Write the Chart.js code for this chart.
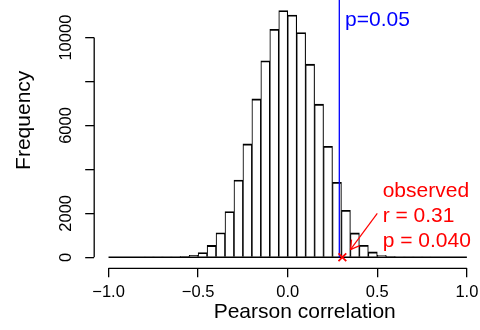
<!DOCTYPE html>
<html>
<head>
<meta charset="utf-8">
<script src="https://cdn.jsdelivr.net/npm/chart.js@4.4.1/dist/chart.umd.min.js"></script>
<style>
  html, body { margin: 0; padding: 0; background: #fff; }
  #wrap { width: 480px; height: 330px; }
</style>
</head>
<body>
<div id="wrap"><canvas id="histChart"></canvas></div>
<script>
// lower edge of each 0.05 wide bin of the permutation histogram
const binLow = [-1.00, -0.95, -0.90, -0.85, -0.80, -0.75, -0.70, -0.65, -0.60, -0.55,
                -0.50, -0.45, -0.40, -0.35, -0.30, -0.25, -0.20, -0.15, -0.10, -0.05,
                 0.00,  0.05,  0.10,  0.15,  0.20,  0.25,  0.30,  0.35,  0.40,  0.45,
                 0.50,  0.55,  0.60,  0.65,  0.70,  0.75,  0.80,  0.85,  0.90,  0.95];
const counts = [0, 0, 0, 0, 1, 4, 10, 20, 40, 90,
                215, 540, 1120, 2080, 3520, 5160, 7210, 8940, 10380, 11230,
                11030, 10230, 8790, 6970, 5050, 3410, 2140, 1110, 550, 245,
                95, 45, 20, 9, 4, 1, 0, 0, 0, 0];
const binWidth = 0.05;
const xTicks = [-1, -0.5, 0, 0.5, 1];
const yTicks = [0, 2000, 4000, 6000, 8000, 10000];
const yTickLabels = ['0', '2000', '', '6000', '', '10000'];
const critR = 0.288;      // p = 0.05 cut-off
const observedR = 0.305;
const observedText = ['observed', 'r = 0.31', 'p = 0.040'];

const FONT = "'Liberation Sans', Arial, Helvetica, sans-serif";
Chart.defaults.font.family = FONT;
Chart.defaults.color = '#000';

const fmtX = v => (v < 0 ? '\u2212' : '') + Math.abs(v).toFixed(1);

function seg(ctx, x1, y1, x2, y2) {
    ctx.beginPath();
    ctx.moveTo(x1, y1);
    ctx.lineTo(x2, y2);
    ctx.stroke();
}

// no extra room for edge labels, the plot region is fixed like in R
function noPad(s) {
    s.paddingLeft = 0;
    s.paddingRight = 0;
    s.paddingTop = 0;
    s.paddingBottom = 0;
}

// R style bits: short axis lines, rotated y labels, axis titles, cut-off line and notes
const rStyle = {
    id: 'rStyle',
    afterDatasetDraw(chart, args) {
        if (args.index !== 1) return;
        const {ctx, chartArea, scales: {x, y}} = chart;
        ctx.save();
        ctx.strokeStyle = '#000';
        ctx.lineWidth = 1.5;
        const y0 = y.getPixelForValue(0);
        seg(ctx, x.getPixelForValue(binLow[0]), y0,
            x.getPixelForValue(binLow[binLow.length - 1] + binWidth), y0);

        ctx.lineWidth = 1.3;
        seg(ctx, x.getPixelForValue(xTicks[0]), chartArea.bottom,
            x.getPixelForValue(xTicks[xTicks.length - 1]), chartArea.bottom);
        seg(ctx, chartArea.left, y.getPixelForValue(yTicks[0]),
            chartArea.left, y.getPixelForValue(yTicks[yTicks.length - 1]));

        ctx.fillStyle = '#000';
        ctx.font = '16.5px ' + FONT;
        ctx.textAlign = 'center';
        ctx.textBaseline = 'middle';
        yTicks.forEach((v, i) => {
            if (!yTickLabels[i]) return;
            ctx.save();
            ctx.translate(66, y.getPixelForValue(v));
            ctx.rotate(-Math.PI / 2);
            ctx.fillText(yTickLabels[i], 0, 0);
            ctx.restore();
        });

        // axis titles
        ctx.font = '21px ' + FONT;
        ctx.fillText('Pearson correlation', 304.7, 312);
        ctx.save();
        ctx.translate(24, 120.3);
        ctx.rotate(-Math.PI / 2);
        ctx.fillText('Frequency', 0, 0);
        ctx.restore();

        // critical value
        const xc = x.getPixelForValue(critR);
        ctx.strokeStyle = '#0000ff';
        ctx.lineWidth = 1.3;
        seg(ctx, xc, y0, xc, chartArea.top);
        ctx.fillStyle = '#0000ff';
        ctx.textAlign = 'left';
        ctx.fillText('p=0.05', x.getPixelForValue(0.32), y.getPixelForValue(10800));

        // observed annotation
        ctx.fillStyle = '#ff0000';
        const tx = x.getPixelForValue(0.53);
        const ty = y.getPixelForValue(1870);
        observedText.forEach((t, i) => ctx.fillText(t, tx, ty + (i - 1) * 24.7));

        const ax0 = x.getPixelForValue(0.5), ay0 = y.getPixelForValue(2000);
        const ax1 = x.getPixelForValue(0.35), ay1 = y.getPixelForValue(350);
        ctx.strokeStyle = '#ff0000';
        ctx.lineWidth = 1.2;
        seg(ctx, ax0, ay0, ax1, ay1);
        const ang = Math.atan2(ay0 - ay1, ax0 - ax1);
        [-Math.PI / 6, Math.PI / 6].forEach(d => {
            seg(ctx, ax1, ay1, ax1 + 10 * Math.cos(ang + d), ay1 + 10 * Math.sin(ang + d));
        });
        ctx.restore();
    }
};

new Chart(document.getElementById('histChart'), {
    type: 'bar',
    data: {
        datasets: [{
            type: 'scatter',
            data: [{x: observedR, y: 0}],
            pointStyle: 'crossRot',
            radius: 5.5,
            borderColor: '#ff0000',
            borderWidth: 1.8,
            order: 0
        }, {
            data: binLow.map((b, i) => ({x: b + binWidth / 2, y: counts[i]})),
            backgroundColor: '#ffffff',
            borderColor: '#000000',
            borderWidth: {top: 1.8, left: 1.1, right: 1.1, bottom: 0},
            borderSkipped: 'bottom',
            barPercentage: 1,
            categoryPercentage: 1,
            order: 1
        }]
    },
    options: {
        responsive: true,
        maintainAspectRatio: false,
        animation: false,
        layout: {padding: 0, autoPadding: false},
        plugins: {legend: {display: false}, tooltip: {enabled: false}},
        scales: {
            x: {
                type: 'linear',
                offset: false,
                min: -1.08,
                max: 1.0732,
                afterBuildTicks: s => { s.ticks = xTicks.map(v => ({value: v})); },
                afterFit: s => { s.height = 61.7; noPad(s); },
                grid: {offset: false, drawOnChartArea: false, tickLength: 9, color: '#000', lineWidth: 1.3},
                border: {display: false},
                ticks: {padding: 5.5, font: {size: 16.5}, maxRotation: 0, autoSkip: false, callback: v => fmtX(v)}
            },
            y: {
                min: -500,
                max: 11712,
                afterBuildTicks: s => { s.ticks = yTicks.map(v => ({value: v})); },
                afterFit: s => { s.width = 94.2; noPad(s); },
                grid: {drawOnChartArea: false, tickLength: 9, color: '#000', lineWidth: 1.3},
                border: {display: false},
                ticks: {display: false}
            }
        }
    },
    plugins: [rStyle]
});
</script>
</body>
</html>
